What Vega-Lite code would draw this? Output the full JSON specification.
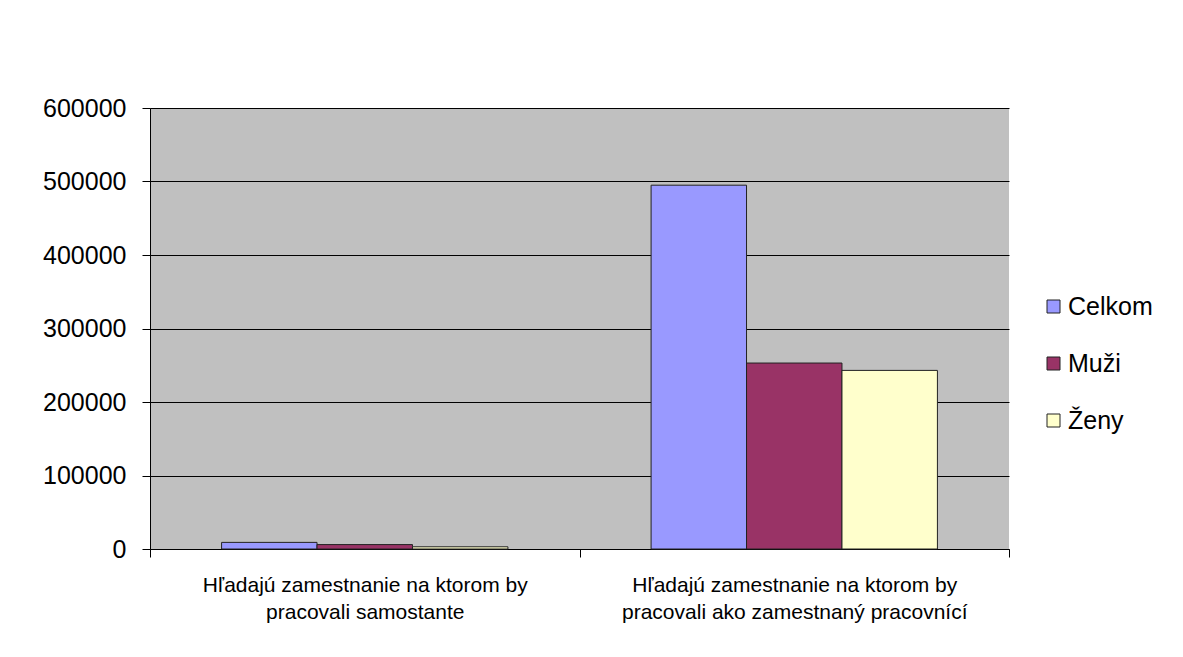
{
  "$schema": "https://vega.github.io/schema/vega-lite/v6.json",
  "width": 859,
  "height": 441,
  "autosize": {"type": "none"},
  "padding": {"left": 150, "top": 108, "right": 174, "bottom": 108},
  "background": "#ffffff",
  "config": {
    "font": "Liberation Sans",
    "view": {"fill": "#C0C0C0", "stroke": null}
  },
  "data": {
    "values": [
      {"skupina": "Hľadajú zamestnanie na ktorom by pracovali samostante", "pohlavie": "Celkom", "pocet": 9000},
      {"skupina": "Hľadajú zamestnanie na ktorom by pracovali samostante", "pohlavie": "Muži", "pocet": 6000},
      {"skupina": "Hľadajú zamestnanie na ktorom by pracovali samostante", "pohlavie": "Ženy", "pocet": 3000},
      {"skupina": "Hľadajú zamestnanie na ktorom by pracovali ako zamestnaný pracovnící", "pohlavie": "Celkom", "pocet": 495000},
      {"skupina": "Hľadajú zamestnanie na ktorom by pracovali ako zamestnaný pracovnící", "pohlavie": "Muži", "pocet": 253000},
      {"skupina": "Hľadajú zamestnanie na ktorom by pracovali ako zamestnaný pracovnící", "pohlavie": "Ženy", "pocet": 243000}
    ]
  },
  "mark": {"type": "bar", "stroke": "#222222", "strokeWidth": 1},
  "encoding": {
    "x": {
      "field": "skupina",
      "type": "nominal",
      "sort": null,
      "title": null,
      "scale": {"paddingInner": 0, "paddingOuter": 0},
      "axis": {
        "tickBand": "extent",
        "labelAngle": 0,
        "labelLimit": 0,
        "labelFont": "Liberation Sans",
        "labelFontSize": 21,
        "labelColor": "#000000",
        "labelLineHeight": 27,
        "labelPadding": 17,
        "labelExpr": "[slice(datum.label, 0, indexof(datum.label, ' pracovali')), slice(datum.label, indexof(datum.label, ' pracovali') + 1)]",
        "tickColor": "#000000",
        "tickSize": 8,
        "domainColor": "#000000",
        "grid": false
      }
    },
    "xOffset": {
      "field": "pohlavie",
      "type": "nominal",
      "sort": ["Celkom", "Muži", "Ženy"],
      "scale": {"paddingInner": 0, "paddingOuter": 0.75}
    },
    "y": {
      "field": "pocet",
      "type": "quantitative",
      "title": null,
      "scale": {"domain": [0, 600000], "nice": false},
      "axis": {
        "values": [0, 100000, 200000, 300000, 400000, 500000, 600000],
        "format": "d",
        "labelFont": "Liberation Sans",
        "labelFontSize": 25,
        "labelColor": "#000000",
        "labelPadding": 16,
        "tickColor": "#000000",
        "tickSize": 8,
        "domainColor": "#000000",
        "gridColor": "#000000",
        "gridOpacity": 1
      }
    },
    "color": {
      "field": "pohlavie",
      "type": "nominal",
      "sort": ["Celkom", "Muži", "Ženy"],
      "scale": {"domain": ["Celkom", "Muži", "Ženy"], "range": ["#9999FF", "#993366", "#FFFFCC"]},
      "legend": {
        "title": null,
        "orient": "none",
        "legendX": 891,
        "legendY": 186,
        "symbolType": "square",
        "symbolSize": 169,
        "symbolStrokeColor": "#222222",
        "symbolStrokeWidth": 1,
        "symbolOpacity": 1,
        "labelFont": "Liberation Sans",
        "labelFontSize": 25,
        "labelColor": "#000000",
        "labelOffset": 2,
        "rowPadding": 31,
        "labelExpr": "datum.label == 'Ženy' ? '\u00a0Ženy' : datum.label"
      }
    }
  }
}
